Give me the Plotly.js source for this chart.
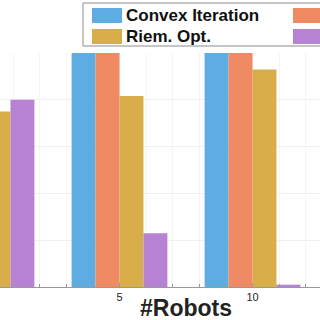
<!DOCTYPE html>
<html>
<head>
<meta charset="utf-8">
<script src="https://cdn.plot.ly/plotly-3.0.1.min.js"></script>
<style>
  html, body { margin: 0; padding: 0; width: 320px; height: 320px; overflow: hidden; background: #ffffff; }
  #chart { position: absolute; left: -180px; top: 0px; }
</style>
</head>
<body>
<div id="chart"></div>
<script>
// ---- data (success rate %) ----
const robots = [0, 5, 10, 15];
const seriesNames = ["Convex Iteration", "Nuclear Norm", "Riem. Opt.", "Max. Trace"];
const convexIteration = [100, 100, 100, 100];
const nuclearNorm     = [100, 100, 100, 100];
const riemOpt         = [75, 81.6, 93, 95];
const maxTrace        = [80, 23, 1, 0];
const seriesColors = ["#5DADE2", "#EF8A62", "#D9AD4A", "#B882D4"];
// only the tick labels visible in the (cropped) reference are written
const xTickVals = [0, 5, 10, 15];
const xTickText = ["", "5", "10", ""];
const xTitle = "#Robots";

const seriesValues = [convexIteration, nuclearNorm, riemOpt, maxTrace];

const traces = seriesValues.map((vals, i) => ({
  type: "bar",
  x: robots,
  y: vals,
  name: seriesNames[i],
  marker: { color: seriesColors[i], line: { width: 0 } },
  showlegend: false,
  hoverinfo: "skip"
}));

// ---- layout geometry (full figure, of which the page shows a crop) ----
const M = { l: 100, r: 100, t: 53, b: 53 };
const plotW = 532, plotH = 234;
const figW = M.l + plotW + M.r, figH = M.t + plotH + M.b;
const plotLeftOnPage = -180 + M.l;          // page x of plot left edge
const plotBottomOnPage = M.t + plotH;       // page y of plot bottom edge
const px2paperX = px => (px - plotLeftOnPage) / plotW;
const py2paperY = py => (plotBottomOnPage - py) / plotH;

// manual legend (box + swatches + labels); right column labels lie outside the crop
const shapes = [];
const annotations = [];
shapes.push({
  type: "rect", xref: "paper", yref: "paper",
  x0: px2paperX(83), x1: px2paperX(520), y0: py2paperY(46), y1: py2paperY(3),
  line: { color: "#8c8c8c", width: 1 }, fillcolor: "#ffffff", layer: "above"
});
const legendCols = [92, 293];
const legendRows = [[8, 23], [29, 44]];
const legendOrder = [[0, 0, 0], [1, 1, 0], [2, 0, 1], [3, 1, 1]]; // series, col, row
legendOrder.forEach(([s, c, r]) => {
  shapes.push({
    type: "rect", xref: "paper", yref: "paper",
    x0: px2paperX(legendCols[c]), x1: px2paperX(legendCols[c] + 30),
    y0: py2paperY(legendRows[r][1]), y1: py2paperY(legendRows[r][0]),
    line: { width: 0 }, fillcolor: seriesColors[s], layer: "above"
  });
  if (c === 0) {
    annotations.push({
      xref: "paper", yref: "paper",
      x: px2paperX(legendCols[c] + 32), y: py2paperY((legendRows[r][0] + legendRows[r][1]) / 2),
      xanchor: "left", yanchor: "middle", showarrow: false,
      text: seriesNames[s],
      font: { family: "Liberation Sans, Arial, sans-serif", size: 17, color: "#111111", weight: "bold" }
    });
  }
});

// x-axis title, placed as an annotation centred under the plot
annotations.push({
  xref: "paper", yref: "paper", x: 0.5, y: py2paperY(308),
  xanchor: "center", yanchor: "middle", showarrow: false,
  text: xTitle,
  font: { family: "Liberation Sans, Arial, sans-serif", size: 23, color: "#222222", weight: "bold" }
});

const layout = {
  width: figW, height: figH,
  margin: M,
  paper_bgcolor: "#ffffff", plot_bgcolor: "#ffffff",
  barmode: "group", bargap: 0.28, bargroupgap: 0,
  showlegend: false,
  xaxis: {
    range: [-2.5, 17.5],
    tickvals: xTickVals, ticktext: xTickText,
    ticks: "inside", ticklen: 4, tickcolor: "#999999",
    showgrid: true, gridcolor: "#f2f2f2", zeroline: false,
    showline: true, linecolor: "#999999", linewidth: 1,
    minor: { dtick: 1, tick0: 0, ticks: "inside", ticklen: 3, tickcolor: "#999999", showgrid: true, gridcolor: "#f5f5f5" },
    tickfont: { family: "Liberation Sans, Arial, sans-serif", size: 11, color: "#222222" }
  },
  yaxis: {
    range: [0, 100], dtick: 20,
    showgrid: true, gridcolor: "#f0f0f0", zeroline: false,
    showline: false, ticks: "", showticklabels: false
  },
  shapes: shapes,
  annotations: annotations
};

Plotly.newPlot("chart", traces, layout, { staticPlot: true, displayModeBar: false });
</script>
</body>
</html>
